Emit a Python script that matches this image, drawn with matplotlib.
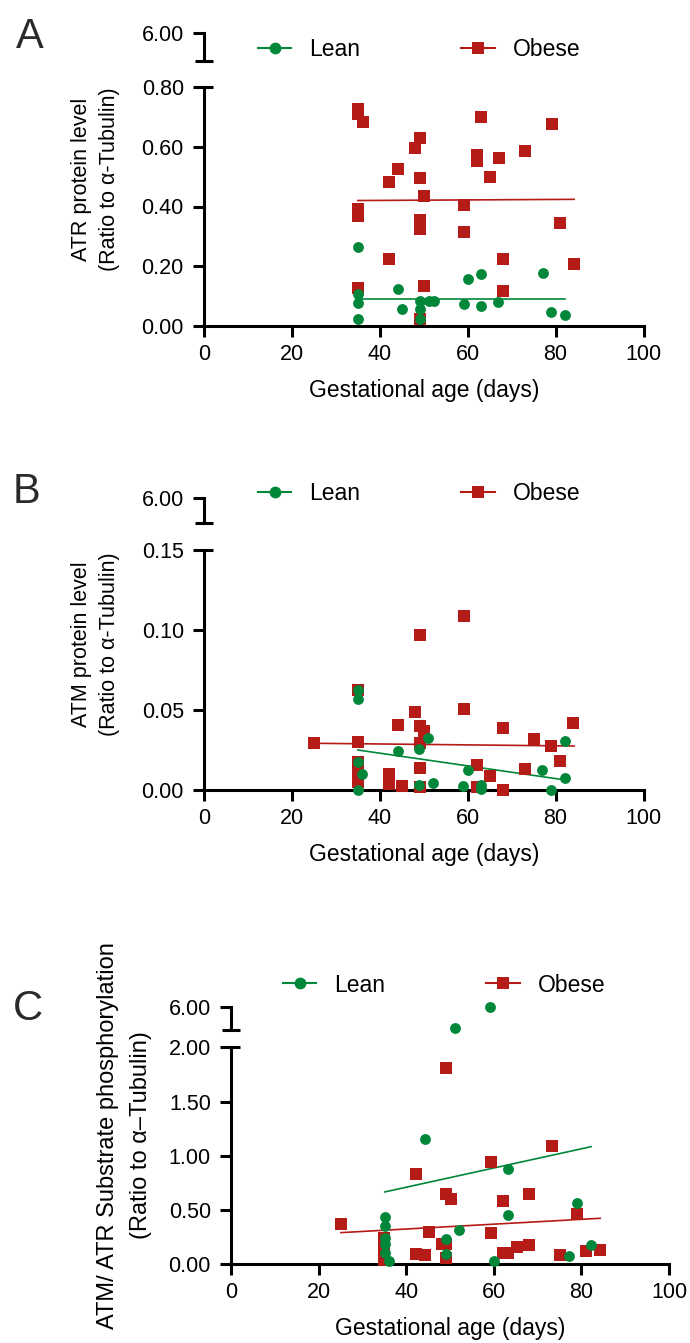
import numpy as np
import matplotlib
matplotlib.use("Agg")
import matplotlib.pyplot as plt
from matplotlib.lines import Line2D
from matplotlib.ticker import FormatStrFormatter, FixedLocator

plt.rcParams['font.family'] = ['Liberation Sans', 'DejaVu Sans']

# ---------------- data ----------------
gest_ticks = [0, 20, 40, 60, 80, 100]

# A: ATR protein level
atr_obese_day = [35, 35, 36.2, 49.1, 48.0, 44.1, 42.1, 49.1, 50.1, 35, 35, 49.1, 49.1,
                 59.1, 59.1, 63.0, 62.1, 62.1, 67.1, 65.1, 73.0, 79.2, 81.0, 84.2,
                 42.1, 68.0, 68.0, 50.1, 35, 49.1]
atr_obese_val = [0.726, 0.708, 0.684, 0.630, 0.597, 0.527, 0.483, 0.497, 0.436, 0.392,
                 0.368, 0.355, 0.326, 0.406, 0.316, 0.701, 0.571, 0.553, 0.563, 0.500,
                 0.587, 0.677, 0.346, 0.209, 0.225, 0.225, 0.118, 0.134, 0.126, 0.022]
atr_lean_day = [35, 35, 35, 35, 44.1, 45.1, 49.1, 49.1, 49.1, 51.1, 52.3, 60.1, 63.0,
                59.1, 63.0, 67.0, 77.1, 79.0, 82.1]
atr_lean_val = [0.263, 0.107, 0.076, 0.022, 0.125, 0.057, 0.085, 0.056, 0.022, 0.085,
                0.085, 0.157, 0.175, 0.075, 0.068, 0.081, 0.176, 0.048, 0.036]
atr_obese_fit_x = [35, 84.2]
atr_obese_fit_y = [0.420, 0.424]
atr_lean_fit_x = [35, 82.1]
atr_lean_fit_y = [0.090, 0.090]
atr_yticks = [0.0, 0.2, 0.4, 0.6, 0.8]

# B: ATM protein level
atm_obese_day = [25.0, 35, 35, 35, 35, 35, 42.1, 42.1, 44.1, 45.1, 48.0, 49.1, 50.1,
                 49.1, 49.1, 49.1, 49.1, 59.1, 59.1, 62.1, 62.1, 65.1, 68.0, 68.0,
                 73.0, 75.1, 79.0, 81.0, 84.0]
atm_obese_val = [0.0294, 0.0625, 0.0302, 0.0175, 0.010, 0.005, 0.010, 0.004, 0.0408,
                 0.0027, 0.0488, 0.0402, 0.0371, 0.0296, 0.0140, 0.002, 0.0969, 0.109,
                 0.0508, 0.0156, 0.002, 0.009, 0.039, 0.000, 0.0133, 0.0319, 0.0277,
                 0.0183, 0.0421]
atm_lean_day = [35, 35, 35, 36.0, 35, 44.1, 49.0, 51.0, 49.0, 52.0, 59.0, 60.1, 63.0,
                63.0, 77.0, 79.0, 82.1, 82.1]
atm_lean_val = [0.0625, 0.0569, 0.0175, 0.0100, 0.000, 0.0242, 0.0254, 0.0327, 0.0031,
                0.0046, 0.0023, 0.0125, 0.0029, 0.0008, 0.0127, 0.000, 0.0308, 0.0077]
atm_obese_fit_x = [25, 84.2]
atm_obese_fit_y = [0.0292, 0.0275]
atm_lean_fit_x = [35, 82.1]
atm_lean_fit_y = [0.0250, 0.0063]
atm_yticks = [0.0, 0.05, 0.10, 0.15]

# C: ATM/ATR substrate phosphorylation
sub_obese_day = [25.1, 35, 35, 35, 42.2, 42.2, 44.2, 45.2, 49.2, 49.2, 50.2, 48.2, 49.2,
                 49.2, 59.3, 59.3, 62.2, 62.2, 63.2, 65.2, 68.1, 68.1, 73.2, 75.2, 79.1,
                 81.1, 84.2]
sub_obese_val = [0.372, 0.24, 0.15, 0.04, 0.833, 0.098, 0.086, 0.298, 1.81, 0.648, 0.599,
                 0.187, 0.187, 0.055, 0.940, 0.289, 0.587, 0.108, 0.108, 0.163, 0.648,
                 0.178, 1.094, 0.086, 0.464, 0.123, 0.132]
sub_lean_day = [35.1, 35.1, 35.1, 35.1, 35.1, 36.1, 44.2, 49.2, 49.2, 52.1, 63.2, 63.2,
                60.1, 79.1, 77.2, 82.2, 51.1, 59.1]
sub_lean_val = [0.436, 0.356, 0.240, 0.187, 0.108, 0.034, 1.158, 0.237, 0.098, 0.316,
                0.879, 0.458, 0.034, 0.568, 0.077, 0.178, 2.3, 6.0]
sub_obese_fit_x = [25.1, 84.3]
sub_obese_fit_y = [0.292, 0.424]
sub_lean_fit_x = [35.1, 82.2]
sub_lean_fit_y = [0.667, 1.084]
sub_yticks = [0.0, 0.5, 1.0, 1.5, 2.0]

break_top = 6.0
break_low = 2.0
legend_labels = ['Lean', 'Obese']

# ---------------- style ----------------
GREEN = '#00873A'
RED = '#B51B17'
LW = 2.2
TICK_LEN = 8.0
FS = 15.5
FS_LABEL = 16.5

W, H = 690, 1343
fig = plt.figure(figsize=(W / 100, H / 100), dpi=100)


def px_axes(x0, y0, x1, y1):
    return fig.add_axes([x0 / W, 1 - y1 / H, (x1 - x0) / W, (y1 - y0) / H])


def style_main(ax, yticks):
    ymax = yticks[-1]
    ax.set_xlim(0, 100)
    ax.set_ylim(0, ymax)
    ax.patch.set_visible(False)
    for s in ('top', 'right'):
        ax.spines[s].set_visible(False)
    for s in ('left', 'bottom'):
        ax.spines[s].set_linewidth(LW)
    ax.set_xticks(gest_ticks)
    ax.set_yticks(yticks)
    ax.yaxis.set_major_formatter(FormatStrFormatter('%.2f'))
    ax.tick_params(which='major', direction='out', length=TICK_LEN, width=LW,
                   labelsize=FS)
    ax.tick_params(axis='y', which='major', pad=6.5)
    ax.tick_params(axis='x', which='major', pad=5)
    ax.yaxis.remove_overlapping_locs = False
    ax.yaxis.set_minor_locator(FixedLocator([ymax]))
    ax.tick_params(axis='y', which='minor', direction='in', length=6.5, width=LW)
    ax.tick_params(axis='x', which='minor', bottom=False)
    ax.set_xlabel('Gestational age (days)', fontsize=FS_LABEL, labelpad=10)


def style_top(ax):
    ax.set_xlim(0, 100)
    ax.set_ylim(break_low, break_top)
    ax.patch.set_visible(False)
    for s in ('top', 'right', 'bottom'):
        ax.spines[s].set_visible(False)
    ax.spines['left'].set_linewidth(LW)
    ax.set_xticks([])
    ax.set_yticks([break_top])
    ax.yaxis.set_major_formatter(FormatStrFormatter('%.2f'))
    ax.tick_params(axis='y', which='major', direction='out', length=TICK_LEN,
                   width=LW, labelsize=FS, pad=6.5)
    ax.yaxis.set_minor_locator(FixedLocator([break_low]))
    ax.tick_params(axis='y', which='minor', direction='inout', length=13, width=LW)


def scatter_split(ax_main, ax_top, day, val, ymax, **kw):
    day = np.asarray(day)
    val = np.asarray(val)
    low = val <= ymax
    ax_main.plot(day[low], val[low], linestyle='none', clip_on=False, zorder=5, **kw)
    hi = val >= break_low
    if hi.any():
        ax_top.plot(day[hi], val[hi], linestyle='none', clip_on=False, zorder=5, **kw)


def add_legend(x_px, y_px):
    handles = [Line2D([], [], color=GREEN, marker='o', ms=8.5, mew=0, lw=1.5),
               Line2D([], [], color=RED, marker='s', ms=8.5, mew=0, lw=1.5)]
    fig.legend(handles, legend_labels, loc='center left',
               bbox_to_anchor=(x_px / W, 1 - y_px / H), ncol=2, frameon=False,
               fontsize=FS_LABEL, handlelength=1.45, handletextpad=0.8,
               columnspacing=4.4, borderpad=0, borderaxespad=0)


panels = [
    dict(letter='A', letter_xy=(30, 37),
         main=(204, 87, 643.5, 326), top=(204, 33.3, 643.5, 60.7),
         yticks=atr_yticks,
         obese=(atr_obese_day, atr_obese_val), lean=(atr_lean_day, atr_lean_val),
         ofit=(atr_obese_fit_x, atr_obese_fit_y), lfit=(atr_lean_fit_x, atr_lean_fit_y),
         ylab=('ATR protein level', '(Ratio to \u03b1-Tubulin)'), ylab_x=(82, 109),
         ylab_fs=15.5, legend_xy=(258, 50)),
    dict(letter='B', letter_xy=(26, 492),
         main=(204, 550, 643.5, 790), top=(204, 497.7, 643.5, 523.3),
         yticks=atm_yticks,
         obese=(atm_obese_day, atm_obese_val), lean=(atm_lean_day, atm_lean_val),
         ofit=(atm_obese_fit_x, atm_obese_fit_y), lfit=(atm_lean_fit_x, atm_lean_fit_y),
         ylab=('ATM protein level', '(Ratio to \u03b1-Tubulin)'), ylab_x=(82, 109),
         ylab_fs=15.5, legend_xy=(258, 494)),
    dict(letter='C', letter_xy=(28, 1009),
         main=(231, 1047.3, 669, 1264.3), top=(231, 1006.7, 669, 1030),
         yticks=sub_yticks,
         obese=(sub_obese_day, sub_obese_val), lean=(sub_lean_day, sub_lean_val),
         ofit=(sub_obese_fit_x, sub_obese_fit_y), lfit=(sub_lean_fit_x, sub_lean_fit_y),
         ylab=('ATM/ ATR Substrate phosphorylation', '(Ratio to \u03b1\u2013Tubulin)'),
         ylab_x=(108, 141), ylab_fs=17,
         legend_xy=(283, 985)),
]

for p in panels:
    ax = px_axes(*p['main'])
    axt = px_axes(*p['top'])
    style_main(ax, p['yticks'])
    style_top(axt)
    ymax = p['yticks'][-1]

    ax.plot(*p['ofit'], color=RED, lw=1.2, zorder=3, clip_on=False)
    ax.plot(*p['lfit'], color=GREEN, lw=1.2, zorder=3, clip_on=False)

    scatter_split(ax, axt, *p['obese'], ymax, marker='s', ms=8.4, mew=0, color=RED)
    scatter_split(ax, axt, *p['lean'], ymax, marker='o', ms=7.8, mew=0, color=GREEN)

    # y-axis title, centred on the full (broken) axis height
    y_mid = (p['top'][1] + p['main'][3]) / 2
    for txt, xp in zip(p['ylab'], p['ylab_x']):
        fig.text(xp / W, 1 - y_mid / H, txt, rotation=90, ha='center', va='center',
                 fontsize=p['ylab_fs'])

    fig.text(p['letter_xy'][0] / W, 1 - p['letter_xy'][1] / H, p['letter'],
             fontsize=30, ha='center', va='center', color='#2a2a2a')
    add_legend(*p['legend_xy'])

fig.savefig('out.png', dpi=100)
